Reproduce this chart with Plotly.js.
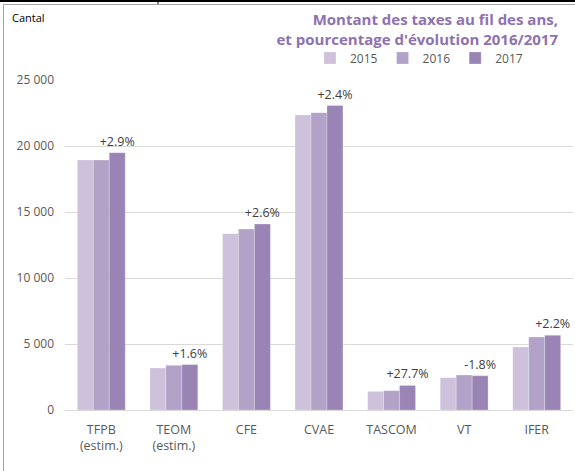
<!DOCTYPE html>
<html>
<head>
<meta charset="utf-8">
<script src="https://cdn.plot.ly/plotly-3.0.1.min.js"></script>
<style>html,body{margin:0;padding:0;background:#fff;}#chart{width:575px;height:471px;}</style>
</head>
<body>
<div id="chart"></div>
<script>
const categories = ["TFPB<br>(estim.)", "TEOM<br>(estim.)", "CFE", "CVAE", "TASCOM", "VT", "IFER"];
const years = ["2015", "2016", "2017"];
const values2015 = [18940, 3180, 13360, 22350, 1410, 2450, 4770];
const values2016 = [18940, 3385, 13710, 22525, 1465, 2650, 5530];
const values2017 = [19495, 3440, 14090, 23060, 1860, 2600, 5655];
const evolutionLabels = ["+2.9%", "+1.6%", "+2.6%", "+2.4%", "+27.7%", "-1.8%", "+2.2%"];
const colors = ["#CDC1DB", "#B2A2C8", "#9A84B5"];

const W = 575, H = 471;
const M = {l: 65, r: 2, t: 80, b: 61};
const pw = W - M.l - M.r, ph = H - M.t - M.b;
const px = x => (x - M.l) / pw;
const py = y => (H - M.b - y) / ph;

const series = [values2015, values2016, values2017];
const traces = series.map((vals, i) => ({
  type: "bar",
  name: years[i],
  x: categories,
  y: vals,
  marker: {color: colors[i], line: {color: "rgba(255,255,255,0.5)", width: 0.5}},
  text: i === 2 ? evolutionLabels : undefined,
  textposition: i === 2 ? "outside" : "none",
  textfont: {family: "Open Sans, sans-serif", size: 12.5, color: "#404040"},
  constraintext: "none",
  cliponaxis: false,
  hoverinfo: "none"
}));

const shapes = [
  {type: "line", xref: "paper", yref: "paper", x0: px(0), x1: px(575), y0: py(1), y1: py(1), line: {color: "#000", width: 2}},
  {type: "line", xref: "paper", yref: "paper", x0: px(158), x1: px(158), y0: py(0), y1: py(4), line: {color: "#000", width: 1}},
  {type: "line", xref: "paper", yref: "paper", x0: px(3), x1: px(575), y0: py(4.5), y1: py(4.5), line: {color: "#A6A6A6", width: 1}},
  {type: "line", xref: "paper", yref: "paper", x0: px(3.5), x1: px(3.5), y0: py(4.5), y1: py(471), line: {color: "#A6A6A6", width: 1}}
];

const layout = {
  width: W, height: H,
  margin: M,
  paper_bgcolor: "#fff",
  plot_bgcolor: "#fff",
  separators: ", ",
  barmode: "group",
  bargap: 0.34,
  bargroupgap: 0,
  font: {family: "Open Sans, sans-serif", size: 12, color: "#595959"},
  title: {
    text: "Montant des taxes au fil des ans,<br>et pourcentage d'évolution 2016/2017",
    x: px(558), xref: "paper", xanchor: "right",
    y: 1 - 25 / H, yanchor: "top",
    font: {family: "Open Sans, sans-serif", size: 15, color: "#8E72B0", weight: "bold"}
  },
  showlegend: true,
  legend: {
    orientation: "h",
    x: px(310), xanchor: "left",
    y: py(58), yanchor: "middle",
    font: {size: 12, color: "#595959"},
    itemwidth: 30,
    traceorder: "normal",
    bgcolor: "rgba(0,0,0,0)"
  },
  xaxis: {
    type: "category",
    showgrid: false,
    showline: false,
    ticks: "",
    ticklabelstandoff: 10,
    tickfont: {size: 12.5, color: "#595959"},
    fixedrange: true
  },
  yaxis: {
    range: [0, 25000],
    dtick: 5000,
    tickformat: ",d",
    showgrid: true,
    gridcolor: "#D9D9D9",
    gridwidth: 1,
    zeroline: true,
    zerolinecolor: "#D9D9D9",
    zerolinewidth: 1,
    showline: false,
    ticks: "",
    ticklabelstandoff: 10,
    tickfont: {size: 12, color: "#595959"},
    fixedrange: true
  },
  annotations: [
    {text: "Cantal", xref: "paper", yref: "paper", x: px(10), y: py(18), xanchor: "left", yanchor: "middle", showarrow: false, font: {size: 11, color: "#000"}}
  ],
  shapes: shapes
};

Plotly.newPlot("chart", traces, layout, {displayModeBar: false, staticPlot: true});
</script>
</body>
</html>
